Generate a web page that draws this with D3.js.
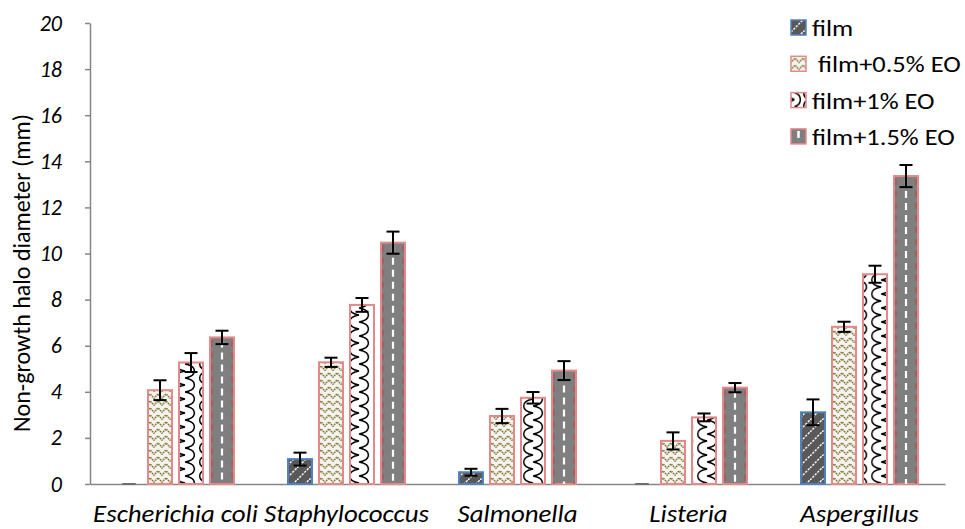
<!DOCTYPE html>
<html>
<head>
<meta charset="utf-8">
<script src="https://cdn.jsdelivr.net/npm/d3@7"></script>
<style>
  body { margin: 0; background: #fff; }
  text { font-family: Carlito, Calibri, Lato, sans-serif; fill: #000; }
</style>
</head>
<body>
<svg id="chart" width="965" height="529"></svg>
<script>
// Inhibition halo diameters (mm) per organism and film formulation
const categories = ["Escherichia coli", "Staphylococcus", "Salmonella", "Listeria", "Aspergillus"];
const seriesNames = ["film", " film+0.5% EO", "film+1% EO", "film+1.5% EO"];

const film      = [0, 1.08, 0.51, 0, 3.11];
const filmErr   = [0, 0.28, 0.15, 0, 0.56];
const eo05      = [4.07, 5.28, 2.95, 1.87, 6.82];
const eo05Err   = [0.43, 0.20, 0.31, 0.37, 0.22];
const eo1       = [5.27, 7.77, 3.74, 2.89, 9.10];
const eo1Err    = [0.41, 0.30, 0.25, 0.17, 0.37];
const eo15      = [6.36, 10.47, 4.92, 4.18, 13.36];
const eo15Err   = [0.29, 0.48, 0.41, 0.20, 0.48];

const yTicks = [0, 2, 4, 6, 8, 10, 12, 14, 16, 18, 20];

const seriesValues = [film, eo05, eo1, eo15];
const seriesErrors = [filmErr, eo05Err, eo1Err, eo15Err];
const seriesStroke = ["#4f81bd", "#e4898a", "#e4898a", "#e4898a"];

const svg = d3.select("#chart");

// ---- scales ----
const x0 = d3.scaleBand().domain(categories).range([90, 945]);
const x1 = d3.scaleBand().domain(d3.range(seriesNames.length))
  .range([0, x0.bandwidth()]).paddingInner(0.226).paddingOuter(0.871);
const y = d3.scaleLinear().domain([0, 20]).range([484, 23]);
const bw = x1.bandwidth();

// ---- fill patterns ----
const defs = svg.append("defs");

// film: dashed white diagonal lattice on dark grey
const pFilm = defs.append("pattern").attr("id", "pFilm")
  .attr("patternUnits", "userSpaceOnUse").attr("width", 12).attr("height", 12);
pFilm.append("rect").attr("width", 12).attr("height", 12).attr("fill", "#595959");
pFilm.append("path").attr("d", "M0,12 L12,0 M-6,6 L6,18 M6,-6 L12,0")
  .attr("stroke", "#fff").attr("stroke-width", 1.4).attr("stroke-dasharray", "2.2,1.3").attr("fill", "none");

// 0.5% EO: dotted olive chevrons on off-white
const pWeave = defs.append("pattern").attr("id", "pWeave")
  .attr("patternUnits", "userSpaceOnUse").attr("width", 8).attr("height", 7);
pWeave.append("rect").attr("width", 8).attr("height", 7).attr("fill", "#f4f3ef");
pWeave.append("path").attr("d", "M-0.5,6.5 L4,2 L8.5,6.5")
  .attr("stroke", "#867636").attr("stroke-width", 1.7).attr("stroke-dasharray", "1.5,0.8").attr("fill", "none");

// 1% EO: staggered black hooks, one tile per bar so it lines up with the bar edges
function wavePattern(id, x0pos, w) {
  const h = 14;
  const p = defs.append("pattern").attr("id", id)
    .attr("patternUnits", "userSpaceOnUse")
    .attr("x", x0pos).attr("y", 0).attr("width", w).attr("height", h);
  p.append("rect").attr("width", w).attr("height", h).attr("fill", "#fff");
  const m = w / 2, r = m + w * 0.52, l = m - w * 0.52;
  const arcs = [
    `M${m},0 C${r},2 ${r},12 ${m},14`,
    `M${m},7 C${l},9 ${l},19 ${m},21`,
    `M${m},-7 C${l},-5 ${l},5 ${m},7`
  ].join(" ");
  p.append("path").attr("d", arcs)
    .attr("stroke", "#000").attr("stroke-width", 1.5).attr("fill", "none");
}
categories.forEach((c, ci) => wavePattern(`pWave${ci}`, x0(c) + x1(2), bw));
wavePattern("pWaveLegend", 791, 15);

const fillFor = (si, ci) =>
  si === 0 ? "url(#pFilm)" :
  si === 1 ? "url(#pWeave)" :
  si === 2 ? (ci == null ? "url(#pWaveLegend)" : `url(#pWave${ci})`) :
  "#7f7f7f";

// ---- axes ----
const yAxis = svg.append("g").attr("transform", "translate(90,0)")
  .call(d3.axisLeft(y).tickValues(yTicks).tickSize(5).tickSizeOuter(0).tickPadding(23));
yAxis.select(".domain").attr("stroke", "#868686").attr("stroke-width", 1.5);
yAxis.selectAll(".tick line").attr("stroke", "#868686").attr("stroke-width", 1.5);
yAxis.selectAll(".tick text")
  .style("font-family", "Carlito, Calibri, Lato, sans-serif")
  .style("font-style", "italic").style("font-size", "22px").attr("fill", "#000");

const xAxis = svg.append("g").attr("transform", "translate(0,484)")
  .call(d3.axisBottom(x0).tickSize(0).tickSizeOuter(0));
xAxis.select(".domain").attr("stroke", "#868686").attr("stroke-width", 1.5);
xAxis.selectAll(".tick text")
  .style("font-family", "Carlito, Calibri, Lato, sans-serif")
  .style("font-style", "italic").style("font-size", "24px")
  .attr("y", 38).attr("dy", 0).attr("fill", "#000")
  .attr("transform", "scale(1.12,1)");

// y axis title
svg.append("text")
  .attr("transform", "translate(30,273) rotate(-90)")
  .attr("text-anchor", "middle")
  .style("font-size", "24px")
  .text("Non-growth halo diameter (mm)");

// ---- bars ----
const groups = svg.append("g").selectAll("g")
  .data(categories).join("g")
  .attr("transform", d => `translate(${x0(d)},0)`);

groups.each(function (c, ci) {
  const g = d3.select(this);
  const data = seriesValues.map((vals, si) => ({ si, ci, v: vals[ci], e: seriesErrors[si][ci] }));

  g.selectAll("rect.bar").data(data).join("rect")
    .attr("class", "bar")
    .attr("x", d => x1(d.si))
    .attr("y", d => y(d.v))
    .attr("width", bw)
    .attr("height", d => y(0) - y(d.v))
    .attr("fill", d => fillFor(d.si, d.ci))
    .attr("stroke", d => d.v > 0 ? seriesStroke[d.si] : "none")
    .attr("stroke-width", 2);

  // dashed lane markings on the 1.5% EO bars
  const lanes = data.filter(d => d.si === 3 && d.v > 0);
  g.selectAll("line.lane").data(lanes).join("line")
    .attr("class", "lane")
    .attr("x1", d => x1(d.si) + bw / 2).attr("x2", d => x1(d.si) + bw / 2)
    .attr("y1", d => y(d.v) + 3).attr("y2", y(0))
    .attr("stroke", "#fff").attr("stroke-width", 2.2).attr("stroke-dasharray", "7,5");
  g.selectAll("line.edge").data(lanes.flatMap(d => [
      { ...d, ex: x1(d.si) + 2 }, { ...d, ex: x1(d.si) + bw - 2 }]))
    .join("line").attr("class", "edge")
    .attr("x1", d => d.ex).attr("x2", d => d.ex)
    .attr("y1", d => y(d.v) + 3).attr("y2", y(0))
    .attr("stroke", "#b5484a").attr("stroke-width", 1).attr("stroke-dasharray", "6,6");

  // error bars
  const cx = d => x1(d.si) + bw / 2;
  const lo = d => y(Math.max(0, d.v - d.e));
  const hi = d => y(d.v + d.e);
  const eb = g.selectAll("g.err").data(data).join("g").attr("class", "err")
    .attr("stroke", d => d.v > 0 ? "#000" : "#6e6e6e").attr("stroke-width", 2);
  eb.append("line").attr("x1", cx).attr("x2", cx).attr("y1", hi).attr("y2", lo);
  eb.append("line").attr("x1", d => cx(d) - 6.5).attr("x2", d => cx(d) + 6.5).attr("y1", hi).attr("y2", hi);
  eb.append("line").attr("x1", d => cx(d) - 6.5).attr("x2", d => cx(d) + 6.5).attr("y1", lo).attr("y2", lo);
});

// ---- legend ----
const legend = svg.append("g").selectAll("g")
  .data(seriesNames).join("g")
  .attr("transform", (d, i) => `translate(791,${20 + i * 36.3})`);

legend.append("rect")
  .attr("width", 15).attr("height", 15)
  .attr("fill", (d, i) => fillFor(i, null))
  .attr("stroke", (d, i) => seriesStroke[i]).attr("stroke-width", 1.5);
legend.filter((d, i) => i === 3).append("line")
  .attr("x1", 7.5).attr("x2", 7.5).attr("y1", 2).attr("y2", 9)
  .attr("stroke", "#fff").attr("stroke-width", 2.5);

legend.append("text")
  .attr("transform", "translate(21,8) scale(1.15,1)")
  .attr("dy", "0.35em")
  .style("font-size", "23px")
  .style("white-space", "pre")
  .attr("xml:space", "preserve")
  .text(d => d);
</script>
</body>
</html>
